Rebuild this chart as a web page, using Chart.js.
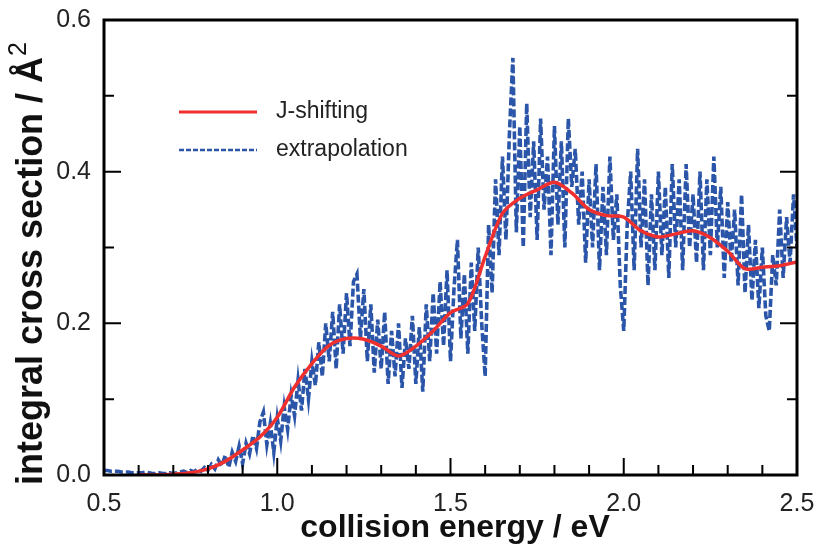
<!DOCTYPE html>
<html>
<head>
<meta charset="utf-8">
<script src="https://cdn.jsdelivr.net/npm/chart.js@4.4.1/dist/chart.umd.min.js"></script>
<style>
  html, body { margin: 0; padding: 0; background: #fff; }
  #wrap { width: 819px; height: 547px; }
</style>
</head>
<body>
<div id="wrap"><canvas id="chart" width="819" height="547"></canvas></div>
<script>
// J-shifting (smooth red curve)
const jsEnergy = [0.60,0.65,0.70,0.75,0.80,0.85,0.90,0.95,1.00,1.05,1.10,1.15,1.20,1.25,1.30,1.35,1.40,1.45,1.50,1.55,
  1.60,1.65,1.70,1.75,1.80,1.85,1.90,1.95,2.00,2.05,2.10,2.15,2.20,2.25,2.30,2.35,2.40,2.45,2.50];
const jsSigma = [0.000,0.000,0.001,0.003,0.008,0.018,0.033,0.050,0.076,0.116,0.147,0.171,0.180,0.179,0.170,0.157,0.170,0.190,0.214,0.226,
  0.288,0.345,0.365,0.376,0.386,0.372,0.350,0.342,0.340,0.322,0.314,0.318,0.322,0.313,0.295,0.272,0.274,0.276,0.281];

// extrapolation (noisy blue dashed curve)
const exEnergy = [
  0.50,0.51,0.52,0.53,0.54,0.55,0.56,0.57,0.58,0.59,0.60,0.61,0.62,0.63,0.64,0.65,0.66,0.67,0.68,0.69,
  0.70,0.71,0.72,0.73,0.74,0.75,0.76,0.77,0.78,0.79,0.80,0.81,0.82,0.83,0.84,0.85,0.86,0.87,0.88,0.89,
  0.90,0.91,0.92,0.93,0.94,0.95,0.96,0.97,0.98,0.99,1.00,1.01,1.02,1.03,1.04,1.05,1.06,1.07,1.08,1.09,
  1.10,1.11,1.12,1.13,1.14,1.15,1.16,1.17,1.18,1.19,1.20,1.21,1.22,1.23,1.24,1.25,1.26,1.27,1.28,1.29,
  1.30,1.31,1.32,1.33,1.34,1.35,1.36,1.37,1.38,1.39,1.40,1.41,1.42,1.43,1.44,1.45,1.46,1.47,1.48,1.49,
  1.50,1.51,1.52,1.53,1.54,1.55,1.56,1.57,1.58,1.59,1.60,1.61,1.62,1.63,1.64,1.65,1.66,1.67,1.68,1.69,
  1.70,1.71,1.72,1.73,1.74,1.75,1.76,1.77,1.78,1.79,1.80,1.81,1.82,1.83,1.84,1.85,1.86,1.87,1.88,1.89,
  1.90,1.91,1.92,1.93,1.94,1.95,1.96,1.97,1.98,1.99,2.00,2.01,2.02,2.03,2.04,2.05,2.06,2.07,2.08,2.09,
  2.10,2.11,2.12,2.13,2.14,2.15,2.16,2.17,2.18,2.19,2.20,2.21,2.22,2.23,2.24,2.25,2.26,2.27,2.28,2.29,
  2.30,2.31,2.32,2.33,2.34,2.35,2.36,2.37,2.38,2.39,2.40,2.41,2.42,2.43,2.44,2.45,2.46,2.47,2.48,2.49,
  2.50];
const exSigma = [
  0.006,0.006,0.005,0.005,0.005,0.004,0.004,0.004,0.003,0.003,0.003,0.003,0.004,0.003,0.002,0.002,0.003,0.002,0.002,0.003,
  0.002,0.003,0.004,0.005,0.003,0.006,0.004,0.008,0.005,0.010,0.006,0.014,0.008,0.020,0.012,0.026,0.010,0.030,0.018,0.038,
  0.015,0.042,0.028,0.052,0.035,0.070,0.083,0.040,0.068,0.030,0.075,0.045,0.090,0.060,0.105,0.078,0.125,0.085,0.140,0.100,
  0.150,0.118,0.175,0.130,0.200,0.150,0.215,0.140,0.225,0.160,0.240,0.170,0.255,0.265,0.180,0.245,0.150,0.225,0.135,0.205,
  0.140,0.215,0.120,0.190,0.130,0.200,0.115,0.180,0.140,0.210,0.120,0.195,0.110,0.225,0.150,0.240,0.160,0.255,0.170,0.270,
  0.150,0.245,0.310,0.180,0.265,0.160,0.280,0.190,0.300,0.200,0.130,0.330,0.240,0.390,0.290,0.420,0.310,0.450,0.550,0.320,
  0.460,0.300,0.490,0.340,0.440,0.310,0.470,0.350,0.420,0.290,0.460,0.330,0.440,0.300,0.470,0.380,0.430,0.330,0.400,0.280,
  0.390,0.300,0.410,0.270,0.380,0.290,0.420,0.310,0.370,0.250,0.190,0.330,0.400,0.270,0.430,0.300,0.390,0.250,0.370,0.270,
  0.400,0.290,0.380,0.260,0.410,0.300,0.390,0.270,0.410,0.300,0.370,0.280,0.400,0.270,0.390,0.290,0.420,0.300,0.380,0.260,
  0.360,0.280,0.350,0.250,0.370,0.240,0.330,0.230,0.310,0.220,0.300,0.210,0.190,0.290,0.250,0.350,0.260,0.340,0.280,0.370,
  0.300];

const xTickValues = [0.5,0.6,0.7,0.8,0.9,1.0,1.1,1.2,1.3,1.4,1.5,1.6,1.7,1.8,1.9,2.0,2.1,2.2,2.3,2.4,2.5];
const xMajor = [0.5,1.0,1.5,2.0,2.5];
const yTickValues = [0.0,0.1,0.2,0.3,0.4,0.5,0.6];
const yMajor = [0.0,0.2,0.4,0.6];

const xTitle = 'collision energy / eV';
const yTitle = 'integral cross section / Å';
const yTitleSup = '2';

const FONT = "'Liberation Sans', Arial, sans-serif";
const RED = '#f0302e';
const BLUE = '#2a55a8';

function pairs(xs, ys) {
  return xs.map((x, i) => ({ x: x, y: ys[i] }));
}

const frameTicks = {
  id: 'frameTicks',
  afterDraw(chart) {
    const { ctx, chartArea: a, scales } = chart;
    const x = scales.x, y = scales.y;
    ctx.save();
    ctx.strokeStyle = '#000';
    ctx.lineWidth = 2;
    ctx.beginPath();
    xTickValues.forEach(v => {
      const px = x.getPixelForValue(v);
      const len = xMajor.includes(v) ? 17 : 10;
      ctx.moveTo(px, a.bottom);
      ctx.lineTo(px, a.bottom - len);
    });
    yTickValues.forEach(v => {
      const py = y.getPixelForValue(v);
      const len = yMajor.includes(v) ? 17 : 10;
      ctx.moveTo(a.left, py);
      ctx.lineTo(a.left + len, py);
      ctx.moveTo(a.right, py);
      ctx.lineTo(a.right - len, py);
    });
    ctx.stroke();
    ctx.lineWidth = 3;
    ctx.strokeRect(a.left, a.top, a.right - a.left, a.bottom - a.top);

    // legend
    const items = chart.data.datasets;
    ctx.font = '23px ' + FONT;
    ctx.fillStyle = '#222';
    ctx.textBaseline = 'middle';
    ctx.textAlign = 'left';
    items.forEach((ds, i) => {
      const ly = 112 + i * 38;
      ctx.beginPath();
      ctx.strokeStyle = ds.borderColor;
      ctx.lineWidth = i === 0 ? 3 : 2.5;
      ctx.setLineDash(i === 0 ? [] : [5, 2]);
      ctx.moveTo(179, ly);
      ctx.lineTo(257, ly);
      ctx.stroke();
      ctx.setLineDash([]);
      ctx.fillText(ds.label, 276, ly);
    });

    // axis titles
    ctx.fillStyle = '#111';
    ctx.textBaseline = 'alphabetic';
    ctx.font = 'bold 32px ' + FONT;
    ctx.textAlign = 'center';
    ctx.fillText(xTitle, 455, 537);

    ctx.save();
    ctx.translate(42, 264);
    ctx.rotate(-Math.PI / 2);
    ctx.font = 'bold 36px ' + FONT;
    const wMain = ctx.measureText(yTitle).width;
    ctx.font = 'bold 25px ' + FONT;
    const wSup = ctx.measureText(yTitleSup).width;
    const x0 = -(wMain + wSup) / 2;
    ctx.textAlign = 'left';
    ctx.font = 'bold 36px ' + FONT;
    ctx.fillText(yTitle, x0, 0);
    ctx.font = '25px ' + FONT;
    ctx.fillText(yTitleSup, x0 + wMain + 1, -16);
    ctx.restore();

    ctx.restore();
  }
};

new Chart(document.getElementById('chart'), {
  type: 'line',
  data: {
    datasets: [
      {
        label: 'J-shifting',
        data: pairs(jsEnergy, jsSigma),
        borderColor: RED,
        borderWidth: 3.5,
        pointRadius: 0,
        tension: 0.3,
        fill: false
      },
      {
        label: 'extrapolation',
        data: pairs(exEnergy, exSigma),
        borderColor: BLUE,
        borderWidth: 3.6,
        borderDash: [8, 3],
        pointRadius: 0,
        tension: 0,
        fill: false
      }
    ]
  },
  options: {
    responsive: false,
    animation: false,
    layout: { padding: { left: 0, right: 22, top: 20, bottom: 0 } },
    plugins: { legend: { display: false }, tooltip: { enabled: false } },
    scales: {
      x: {
        type: 'linear',
        min: 0.5,
        max: 2.5,
        grid: { display: false, drawTicks: false },
        border: { display: false },
        ticks: {
          stepSize: 0.5,
          autoSkip: false,
          maxRotation: 0,
          padding: 14,
          color: '#222',
          font: { family: FONT, size: 25 },
          callback: v => v.toFixed(1)
        },
        afterFit(s) {
          s.height = 72;
          s.paddingLeft = 0;
          s.paddingRight = 0;
        }
      },
      y: {
        min: 0,
        max: 0.6,
        grid: { display: false, drawTicks: false },
        border: { display: false },
        ticks: {
          stepSize: 0.2,
          padding: 13,
          color: '#222',
          font: { family: FONT, size: 25 },
          callback: v => v.toFixed(1)
        },
        afterFit(s) {
          s.width = 104;
          s.paddingTop = 0;
          s.paddingBottom = 0;
        }
      }
    }
  },
  plugins: [frameTicks]
});
</script>
</body>
</html>
